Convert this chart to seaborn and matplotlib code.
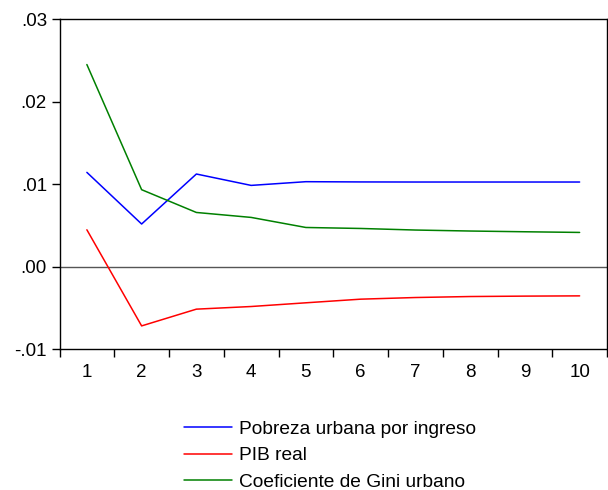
import numpy as np
import pandas as pd
import matplotlib
matplotlib.use("Agg")
import matplotlib.pyplot as plt
import seaborn as sns

# Impulse responses over 10 periods
periods = list(range(1, 11))
pobreza = [0.01141, 0.00515, 0.01121, 0.00983, 0.01028, 0.01025, 0.01024, 0.01024, 0.01024, 0.01024]
pib = [0.00445, -0.00720, -0.00517, -0.00485, -0.00440, -0.00396, -0.00376, -0.00364, -0.00359, -0.00356]
gini = [0.02448, 0.00931, 0.00655, 0.00595, 0.00473, 0.00461, 0.00442, 0.00430, 0.00421, 0.00413]

series_names = ["Pobreza urbana por ingreso", "PIB real", "Coeficiente de Gini urbano"]
series_colors = ["#0000ff", "#ff0000", "#008000"]

y_ticks = [-0.01, 0.0, 0.01, 0.02, 0.03]
y_tick_labels = ["-.01", ".00", ".01", ".02", ".03"]

df = pd.DataFrame({
    "period": periods * 3,
    "value": pobreza + pib + gini,
    "series": [series_names[0]] * 10 + [series_names[1]] * 10 + [series_names[2]] * 10,
})

sns.set_style("ticks")
plt.rcParams["font.family"] = ["Liberation Sans", "DejaVu Sans"]
plt.rcParams["text.color"] = "black"

fig = plt.figure(figsize=(6.08, 4.90), dpi=100)
ax = fig.add_axes([59.5 / 608, 1 - 349 / 490, (607 - 59.5) / 608, (349 - 19) / 490])

sns.lineplot(data=df, x="period", y="value", hue="series", hue_order=series_names,
             palette=series_colors, linewidth=1.1, ax=ax, legend=False)

ax.axhline(0, color="#555555", linewidth=1.0, zorder=0)

ax.set_xlim(0.5, 10.5)
ax.set_ylim(-0.01, 0.03)
ax.set_xticks(periods)
ax.set_xticklabels([str(p) for p in periods])
ax.set_xticks(np.arange(0.5, 11, 1.0), minor=True)
ax.tick_params(axis="x", which="major", length=0, pad=11, labelsize=13.5, colors="black")
ax.tick_params(axis="x", which="minor", length=6, width=1, direction="out", color="black")
ax.set_yticks(y_ticks)
ax.set_yticklabels(y_tick_labels)
ax.tick_params(axis="y", length=6, width=1, direction="out", labelsize=13.5, colors="black", pad=3)
ax.set_xlabel("")
ax.set_ylabel("")
for s in ax.spines.values():
    s.set_visible(True)
    s.set_color("black")
    s.set_linewidth(1.0)

handles = [plt.Line2D([], [], color=c, linewidth=1.1) for c in series_colors]
leg = fig.legend(handles, series_names, loc="upper left",
                 bbox_to_anchor=(184 / 608, 1 - 420.5 / 490), frameon=False,
                 fontsize=13.75, handlelength=2.5, handletextpad=0.37,
                 labelspacing=0.48, borderpad=0, borderaxespad=0)
for t in leg.get_texts():
    t.set_color("black")

fig.savefig("out.png", dpi=100)
